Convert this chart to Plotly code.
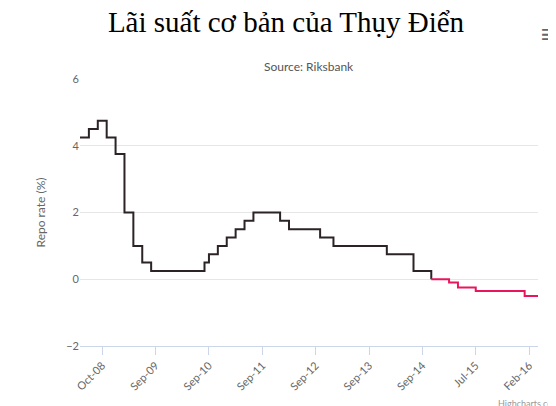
import plotly.graph_objects as go

# step change points (index on the category axis) and repo rate
x_idx = [0, 2, 4, 6, 8, 10, 12, 14, 16, 28, 29, 31, 33, 35, 37, 39, 45, 47, 54, 57, 69, 75, 79, 83, 85, 89, 100, 103]
rates = [4.25, 4.5, 4.75, 4.25, 3.75, 2.0, 1.0, 0.5, 0.25, 0.5, 0.75, 1.0, 1.25, 1.5, 1.75, 2.0, 1.75, 1.5, 1.25, 1.0, 0.75, 0.25, 0.0, -0.1, -0.25, -0.35, -0.5, -0.5]

tick_idx = [5, 17, 29, 41, 53, 65, 77, 89, 101]
tick_labels = ['Oct-08', 'Sep-09', 'Sep-10', 'Sep-11', 'Sep-12', 'Sep-13', 'Sep-14', 'Jul-15', 'Feb-16']

split = x_idx.index(79)

fig = go.Figure()
fig.add_trace(go.Scatter(x=x_idx[:split + 1], y=rates[:split + 1],
                         mode='lines', line=dict(color='#2b2326', width=2, shape='hv'),
                         showlegend=False, hoverinfo='skip'))
fig.add_trace(go.Scatter(x=x_idx[split:], y=rates[split:],
                         mode='lines', line=dict(color='#e8175d', width=2, shape='hv'),
                         showlegend=False))

fig.update_layout(
    width=556, height=406,
    paper_bgcolor='white', plot_bgcolor='white',
    margin=dict(l=72, r=26, t=71, b=68, autoexpand=False),
    font=dict(family='Lato, DejaVu Sans, sans-serif', size=11, color='#666666'),
    title=dict(text='Lãi suất cơ bản của Thụy Điển', x=0.5, xanchor='center', y=0.99, yanchor='top',
               font=dict(family='Liberation Serif, serif', size=29, color='black')),
    annotations=[
        dict(text='Source: Riksbank', xref='paper', yref='paper', x=0.5, y=1.0, yshift=22,
             showarrow=False, font=dict(size=12, color='#555555')),
        dict(text='Highcharts.com', xref='paper', yref='paper', x=1.0, y=0, xshift=24, yshift=-50,
             xanchor='right', yanchor='top', showarrow=False, font=dict(size=9, color='#999999')),
        dict(text='≡', xref='paper', yref='paper', x=1.0, y=1.0, xshift=20, yshift=65,
             xanchor='right', yanchor='top', showarrow=False, font=dict(size=28, color='#666666')),
    ],
    xaxis=dict(range=[0, 103], tickvals=tick_idx, ticktext=tick_labels, tickangle=-45,
               showgrid=False, showline=True, linecolor='#ccd6eb', ticks='outside',
               tickcolor='#ccd6eb', ticklen=8, zeroline=False,
               tickfont=dict(size=11, color='#666666')),
    yaxis=dict(range=[-2, 6], dtick=2, gridcolor='#e6e6e6', zeroline=False,
               title=dict(text='Repo rate (%)', font=dict(size=12, color='#666666'), standoff=18),
               tickfont=dict(size=11, color='#666666')),
)

fig.write_html("out.html")
